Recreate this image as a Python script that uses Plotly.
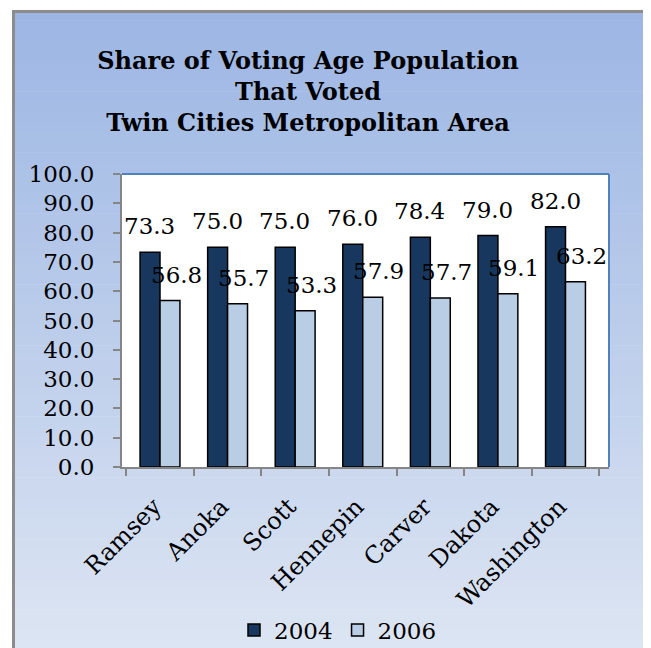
import plotly.graph_objects as go

counties = ["Ramsey", "Anoka", "Scott", "Hennepin", "Carver", "Dakota", "Washington"]
share_2004 = [73.3, 75.0, 75.0, 76.0, 78.4, 79.0, 82.0]
share_2006 = [56.8, 55.7, 53.3, 57.9, 57.7, 59.1, 63.2]
series_names = ["2004", "2006"]
y_tick_values = [0, 10, 20, 30, 40, 50, 60, 70, 80, 90, 100]

OFF = 8  # page body margin
W, H = 651, 648
L, T = 122 - OFF, 174 - OFF
R = W - (609 - OFF)
B = H - (467 - OFF)
PW, PH = W - L - R, H - T - B

FONT = "DejaVu Serif"
DARK = "#17375E"
LIGHT = "#B9CDE5"


def px_x(p):
    return (p - OFF - L) / PW


def px_y(p):
    return (H - B - (p - OFF)) / PH


fig = go.Figure()
fig.add_trace(go.Bar(x=counties, y=share_2004, name=series_names[0],
                     marker=dict(color=DARK, line=dict(color="#000000", width=1.5))))
fig.add_trace(go.Bar(x=counties, y=share_2006, name=series_names[1],
                     marker=dict(color=LIGHT, line=dict(color="#000000", width=1.5))))

# data labels
annotations = []
for vals, xs in ((share_2004, -10.5), (share_2006, 16)):
    for c, v in zip(counties, vals):
        annotations.append(dict(x=c, y=v, xref="x", yref="y", text=f"{v:.1f}",
                                showarrow=False, yanchor="bottom", xanchor="center",
                                xshift=xs, yshift=11,
                                font=dict(family=FONT, size=23, color="#000000")))

# background gradient
shapes = []
top_c = (155, 181, 227)
bot_c = (222, 230, 243)
y_top, y_bot = 10, 660
n = 64
step = (y_bot - y_top) / n
for i in range(n):
    t = (i + 0.5) / n
    col = tuple(round(a + (b - a) * t) for a, b in zip(top_c, bot_c))
    shapes.append(dict(type="rect", xref="paper", yref="paper", layer="below",
                       x0=px_x(12), x1=px_x(662),
                       y0=px_y(y_top + i * step), y1=px_y(y_top + (i + 1) * step + 0.6),
                       fillcolor="rgb(%d,%d,%d)" % col, line=dict(width=0)))
# white plot area
shapes.append(dict(type="rect", xref="x domain", yref="y domain", layer="below",
                   x0=0, x1=1, y0=0, y1=1, fillcolor="#FFFFFF", line=dict(width=0)))
# blue top/right frame
shapes.append(dict(type="line", xref="x domain", yref="y domain", x0=0, x1=1, y0=1, y1=1,
                   line=dict(color="#4F81BD", width=2)))
shapes.append(dict(type="line", xref="x domain", yref="y domain", x0=1, x1=1, y0=0, y1=1,
                   line=dict(color="#4F81BD", width=2)))
# outer gray border
shapes.append(dict(type="line", xref="paper", yref="paper", x0=px_x(13.5), x1=px_x(13.5),
                   y0=px_y(11), y1=px_y(670), line=dict(color="#8C8C8C", width=3)))
shapes.append(dict(type="line", xref="paper", yref="paper", x0=px_x(12), x1=px_x(651),
                   y0=px_y(11.5), y1=px_y(11.5), line=dict(color="#8C8C8C", width=3)))
shapes.append(dict(type="line", xref="paper", yref="paper", x0=px_x(649.5), x1=px_x(649.5),
                   y0=px_y(10), y1=px_y(670), line=dict(color="#8C8C8C", width=3)))

fig.update_layout(
    width=W, height=H,
    margin=dict(l=L, r=R, t=T, b=B, autoexpand=False),
    paper_bgcolor="#FFFFFF",
    plot_bgcolor="#FFFFFF",
    barmode="group",
    bargap=0.41,
    bargroupgap=0,
    title=dict(text="Share of Voting Age Population<br>That Voted<br>Twin Cities Metropolitan Area",
               x=(308 - OFF) / W, xanchor="center", y=1 - 61 / H, yanchor="top",
               font=dict(family=FONT, size=24, color="#000000", weight="bold")),
    showlegend=True,
    legend=dict(orientation="h", x=px_x(338), xanchor="center", y=px_y(630), yanchor="middle",
                bgcolor="rgba(0,0,0,0)", font=dict(family=FONT, size=23, color="#000000"),
                itemclick=False, itemdoubleclick=False),
    annotations=annotations,
    shapes=shapes,
    xaxis=dict(showline=True, linecolor="#868686", linewidth=2, ticks="outside", ticklen=7,
               tickwidth=2, tickcolor="#868686", tickson="boundaries", tickangle=-45,
               ticklabelstandoff=14, ticklabelshift=-6,
               showgrid=False, tickfont=dict(family=FONT, size=24, color="#000000")),
    yaxis=dict(range=[0, 100], tickvals=y_tick_values, tickformat=".1f", showline=True,
               linecolor="#868686", linewidth=2, ticks="outside", ticklen=7, tickwidth=2,
               tickcolor="#868686", showgrid=False, zeroline=False,
               ticklabelstandoff=14,
               tickfont=dict(family=FONT, size=23, color="#000000")),
)

fig.write_html("out.html")
